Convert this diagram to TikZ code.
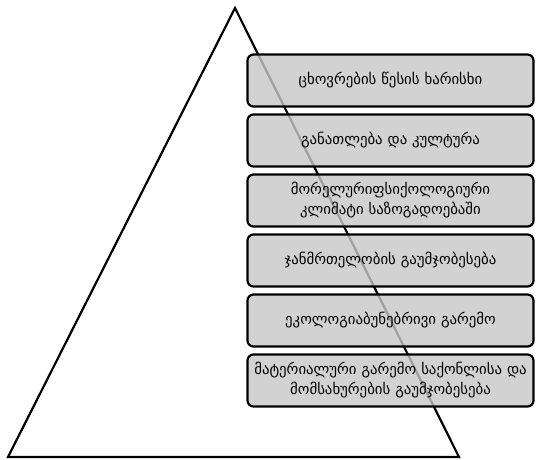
\documentclass[tikz,border=0pt]{standalone}
\usepackage{fontspec}
\usepackage{tikz}
\usetikzlibrary{positioning}
\newfontfamily\geofont{DejaVu Sans}

\tikzset{
  level/.style={draw=black, line width=2.2pt, rounded corners=6pt, fill=black!22, fill opacity=0.8, text opacity=1,
    minimum width=286pt, minimum height=52pt, inner sep=1pt, align=center, text width=284pt,
    font=\geofont\fontsize{14.8}{20}\selectfont},
}

\begin{document}
\begin{tikzpicture}[x=1pt, y=-1pt]
\useasboundingbox (0,0) rectangle (536,460);
% pyramid
\coordinate (top) at (235,8);
\coordinate (left) at (8,457);
\coordinate (right) at (459,457);
\draw [line width=2.2pt, line join=miter] (top) -- (right) -- (left) -- cycle;
% levels
\node [level] (l1) at (390.5,80.5) {ცხოვრების წესის ხარისხი};
\node [level] (l2) at (390.5,140.5) {განათლება და კულტურა};
\node [level] (l3) at (390.5,200.5) {მორელურიფსიქოლოგიური\\კლიმატი საზოგადოებაში};
\node [level] (l4) at (390.5,260.5) {ჯანმრთელობის გაუმჯობესება};
\node [level] (l5) at (390.5,320.5) {ეკოლოგიაბუნებრივი გარემო};
\node [level] (l6) at (390.5,380.5) {მატერიალური გარემო საქონლისა და\\მომსახურების გაუმჯობესება};
\end{tikzpicture}
\end{document}
